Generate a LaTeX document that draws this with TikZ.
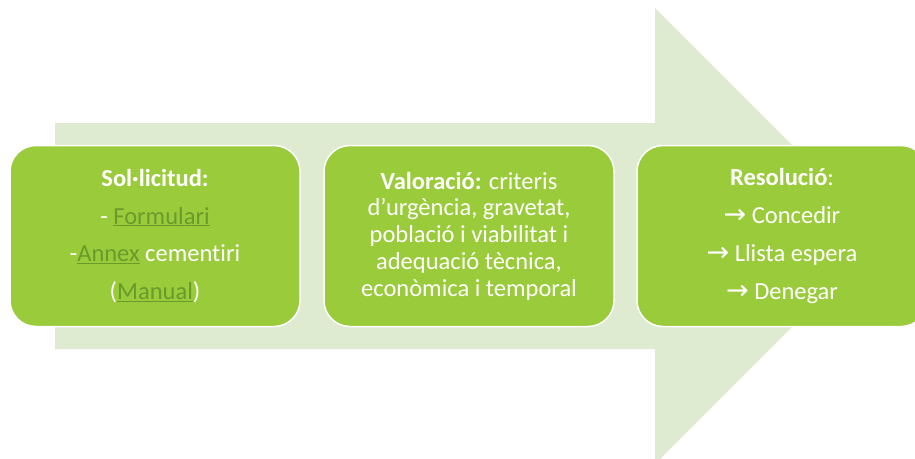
\documentclass[tikz,border=0pt]{standalone}
\usepackage{fontspec}
\setmainfont{Carlito}[Ligatures=NoCommon]
\newfontfamily\arrowfont{DejaVu Sans}
\definecolor{arrowGreen}{HTML}{DEEBD1}
\definecolor{boxGreen}{HTML}{9ACB3A}
\definecolor{linkGreen}{HTML}{6A9A2C}
\newcommand{\linkText}[1]{\textcolor{linkGreen}{\underline{#1}}}
\newcommand{\toArrow}{{\arrowfont\fontsize{27}{27}\selectfont\symbol{"2192}}}

\begin{document}
\begin{tikzpicture}
[x=1pt,y=-1pt,
  arrowDecorate/.style={fill=arrowGreen,draw=none},%
  boxDecorate/.style={shape=rectangle,rounded corners=26pt,fill=boxGreen,draw=white,
    line width=1.5pt,minimum width=290pt,minimum height=181pt,inner sep=0pt,
    text=white,align=center},
  wideLines/.style={font=\fontsize{24.5}{37.7}\selectfont},
  tightLines/.style={font=\fontsize{24.5}{26.8}\selectfont}]
\useasboundingbox (0,0) rectangle (915,458);
%% big arrow in the background
\path[arrowDecorate] (55,123) -- (655,123) -- (655,8) -- (883,236)
  -- (655,464) -- (655,349) -- (55,349) -- cycle;
%% the three steps
\node (solicitud) at (155,236) [boxDecorate,wideLines]
  {\textbf{Sol·licitud:}\\- \linkText{Formulari}\\-\linkText{Annex} cementiri\\(\linkText{Manual})};
\node (valoracio) at (469,236) [boxDecorate,tightLines]
  {\textbf{Valoració:} criteris\\d’urgència, gravetat,\\població i viabilitat i\\adequació tècnica,\\econòmica i temporal};
\node (resolucio) at (782,236) [boxDecorate,wideLines]
  {\textbf{Resolució}:\\\toArrow{} Concedir\\\toArrow{} Llista espera\\\toArrow{} Denegar};
\end{tikzpicture}
\end{document}
